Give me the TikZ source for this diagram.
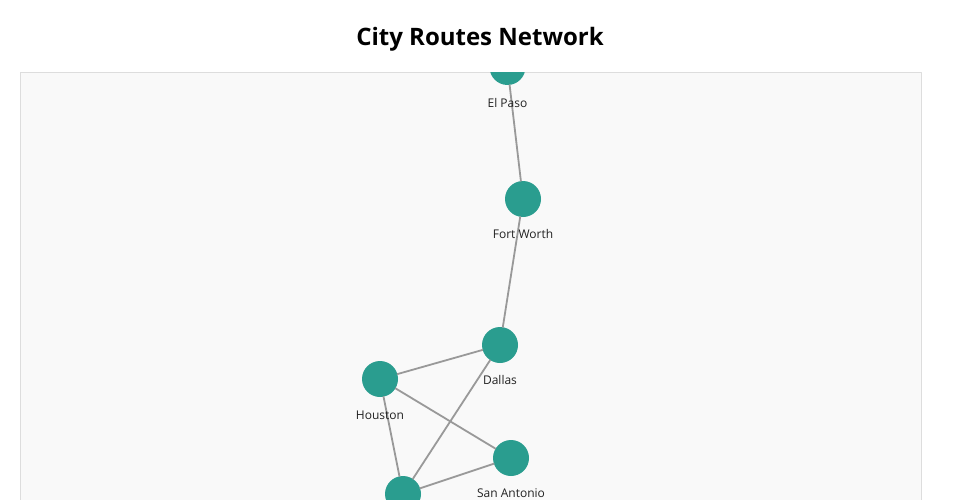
\documentclass[tikz,border=0pt]{standalone}
\usepackage{fontspec}
\setmainfont{Open Sans}
\definecolor{citygreen}{HTML}{2A9D8F}
\definecolor{roadgray}{HTML}{999999}
\definecolor{panelbg}{HTML}{F9F9F9}
\definecolor{panelline}{HTML}{DDDDDD}
\definecolor{labeltext}{HTML}{222222}
\tikzset{
  city/.style={circle,fill=citygreen,minimum size=36pt,inner sep=0pt},
  road/.style={draw=roadgray,line width=1.8pt},
  citylabel/.style={anchor=base,text=labeltext,font=\fontsize{12}{14}\selectfont}
}
\begin{document}
\begin{tikzpicture}[line cap=round,line join=round,x=1pt,y=-1pt]
				\useasboundingbox (0,0) rectangle (960,500);
				\node[anchor=base,font=\bfseries\fontsize{24}{28}\selectfont] (title) at (480,45.5) {City Routes Network};
				\draw[fill=panelbg,draw=panelline,line width=1pt] (20,73) rectangle (921,560);
				\begin{scope}
				\clip (20,73) rectangle (921,560);
				\node[city] (P) at (507.5,67) {};
				\node[city] (F) at (523,199) {};
				\node[city] (D) at (500,345) {};
				\node[city] (H) at (380,379) {};
				\node[city] (S) at (511,458) {};
				\node[city] (A) at (403,494) {};
				\draw[road] (P)--(F);
				\draw[road] (F)--(D);
				\draw[road] (D)--(H);
				\draw[road] (D)--(A);
				\draw[road] (H)--(S);
				\draw[road] (H)--(A);
				\draw[road] (S)--(A);
				\node[citylabel] (Pl) at (507.5,107.5) {El Paso};
				\node[citylabel] (Fl) at (523,238.5) {Fort Worth};
				\node[citylabel] (Dl) at (500,384.5) {Dallas};
				\node[citylabel] (Hl) at (380,419) {Houston};
				\node[citylabel] (Sl) at (511,497.5) {San Antonio};
				\end{scope}
			\end{tikzpicture}
\end{document}
